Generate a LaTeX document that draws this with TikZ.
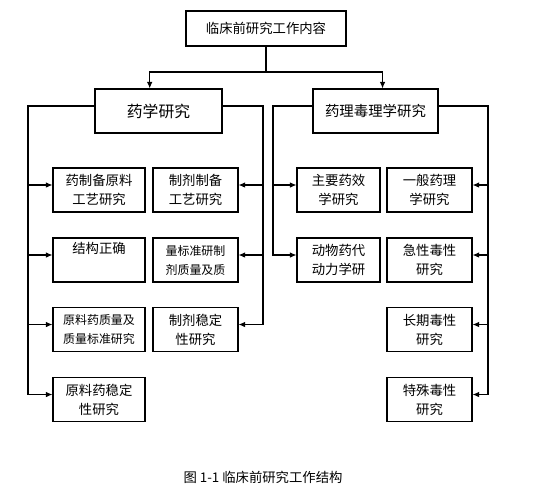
\documentclass[tikz,border=0pt]{standalone}
\usepackage{fontspec}
\setmainfont{Noto Sans CJK SC}
\usetikzlibrary{arrows.meta,calc}
\tikzset{
  topbox/.style={rectangle, draw=black, line width=0.6pt, fill=white, minimum width=3.2cm, minimum height=0.7cm, inner sep=0pt, font=\fontsize{7.6}{9}\selectfont},
  grpbox/.style={rectangle, draw=black, line width=0.6pt, fill=white, minimum height=0.88cm, inner sep=0pt, font=\fontsize{8.2}{10}\selectfont},
  leafbox/.style={rectangle, draw=black, line width=0.6pt, fill=white, minimum height=0.88cm, inner sep=0pt, align=center, font=\fontsize{7.6}{10.8}\selectfont},
  smallbox/.style={leafbox, font=\fontsize{6.8}{10.8}\selectfont},
  parrow/.style={-{Latex[length=1.3mm,width=1.1mm]}, line width=0.6pt, black},
  pline/.style={line width=0.6pt, black}
}
\begin{document}
\begin{tikzpicture}[x=0.02cm, y=-0.02cm]
  \useasboundingbox (0,0) rectangle (557,501);

  \node[topbox] (top) at (266,28.5) {临床前研究工作内容};
  \node[grpbox, minimum width=2.54cm, font=\fontsize{9}{10}\selectfont] (pharm) at (158.5,111) {药学研究};
  \node[grpbox, minimum width=2.5cm] (tox) at (375.5,111) {药理毒理学研究};

  \node[leafbox, minimum width=1.84cm] (a1) at (99,190) {药制备原料\\工艺研究};
  \node[leafbox, minimum width=1.84cm] (a2) at (99,260) {结构正确\\\strut};
  \node[smallbox, minimum width=1.84cm] (a3) at (99,329.5) {原料药质量及\\质量标准研究};
  \node[leafbox, minimum width=1.84cm] (a4) at (99,399.5) {原料药稳定\\性研究};

  \node[leafbox, minimum width=1.7cm] (b1) at (195.5,190) {制剂制备\\工艺研究};
  \node[smallbox, minimum width=1.7cm] (b2) at (195.5,260) {量标准研制\\剂质量及质};
  \node[leafbox, minimum width=1.7cm] (b3) at (195.5,329.5) {制剂稳定\\性研究};

  \node[leafbox, minimum width=1.66cm] (c1) at (338.5,190) {主要药效\\学研究};
  \node[leafbox, minimum width=1.66cm] (c2) at (338.5,260) {动物药代\\动力学研};

  \node[leafbox, minimum width=1.7cm] (d1) at (429.5,190) {一般药理\\学研究};
  \node[leafbox, minimum width=1.7cm] (d2) at (429.5,260) {急性毒性\\研究};
  \node[leafbox, minimum width=1.7cm] (d3) at (429.5,329.5) {长期毒性\\研究};
  \node[leafbox, minimum width=1.7cm] (d4) at (429.5,399.5) {特殊毒性\\研究};

  \node[font=\fontsize{7.6}{9}\selectfont] (cap) at (263,477) {图 1-1 临床前研究工作结构};

  \coordinate (split) at (264,72);
  \coordinate (ltrunk) at (28,0);
  \coordinate (mtrunk) at (263,0);
  \coordinate (ntrunk) at (273,0);
  \coordinate (rtrunk) at (488,0);

  \draw[pline] (top.south) -- (top.south |- split);
  \draw[parrow] (top.south |- split) -| ([xshift=-5]pharm.north);
  \draw[parrow] (top.south |- split) -| ([xshift=4]tox.north);

  % arrow points sit a little above the box centres
  \foreach \n in {a1,a2,a3,a4,c1,c2,pharm,tox}
    \coordinate (in-\n) at ($(\n.west)+(0,-5)$);
  \foreach \n in {b1,b2,b3,d1,d2,d3,d4,pharm,tox}
    \coordinate (out-\n) at ($(\n.east)+(0,-5)$);

  \draw[parrow] (in-pharm) -| (ltrunk |- in-a4) -- (in-a4);
  \foreach \n in {a1,a2,a3}
    \draw[parrow] (ltrunk |- in-\n) -- (in-\n);

  \draw[parrow] (out-pharm) -| (mtrunk |- out-b3) -- (out-b3);
  \foreach \n in {b1,b2}
    \draw[parrow] (mtrunk |- out-\n) -- (out-\n);

  \draw[parrow] (in-tox) -| (ntrunk |- in-c2) -- (in-c2);
  \draw[parrow] (ntrunk |- in-c1) -- (in-c1);

  \draw[parrow] (out-tox) -| (rtrunk |- out-d4) -- (out-d4);
  \foreach \n in {d1,d2,d3}
    \draw[parrow] (rtrunk |- out-\n) -- (out-\n);
\end{tikzpicture}
\end{document}
